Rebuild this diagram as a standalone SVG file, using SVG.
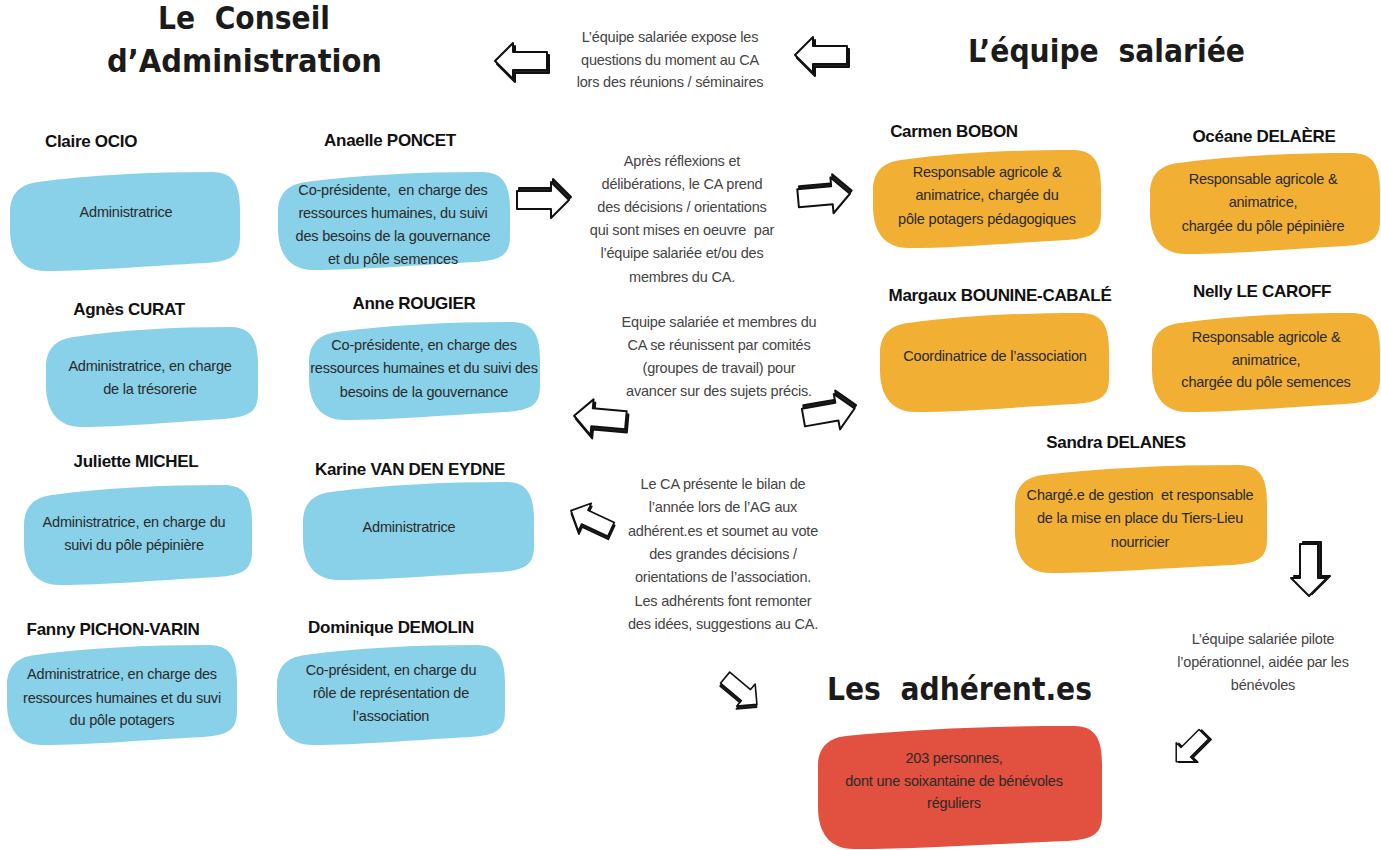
<svg xmlns="http://www.w3.org/2000/svg" xmlns:xlink="http://www.w3.org/1999/xlink" width="1381" height="850" viewBox="0 0 1381 850">
<style>
.title{font-family:"DejaVu Sans","Liberation Sans",sans-serif;font-weight:bold;font-size:32px;fill:#1b1b1b}
.name{font-family:"Liberation Sans",Arial,sans-serif;font-weight:bold;font-size:17px;fill:#111;text-anchor:middle;letter-spacing:-0.3px}
.t{font-family:"Liberation Sans",Arial,sans-serif;font-size:14.5px;fill:#2a2a2a;text-anchor:middle;letter-spacing:-0.2px}
.m{font-family:"Liberation Sans",Arial,sans-serif;font-size:14.5px;fill:#444;text-anchor:middle;letter-spacing:-0.2px}
.blue{fill:#88d1e9}
.orange{fill:#f1af34}
.red{fill:#e2503f}
.ashadow{fill:#222;stroke:#111;stroke-width:2;stroke-linejoin:round}
.afront{fill:#fff;stroke:#111;stroke-width:2;stroke-linejoin:round}
</style>
<defs>
<polygon id="arr" points="-26,-9 8,-9 8,-18 26,0 8,18 8,9 -26,9"/>
</defs>
<rect width="1381" height="850" fill="#fff"/>

<g id="titles">
<text class="title" x="158" y="29" textLength="172" lengthAdjust="spacingAndGlyphs" xml:space="preserve">Le  Conseil</text>
<text class="title" x="107" y="72" textLength="275" lengthAdjust="spacingAndGlyphs">d’Administration</text>
<text class="title" x="968" y="62" textLength="277" lengthAdjust="spacingAndGlyphs" xml:space="preserve">L’équipe  salariée</text>
<text class="title" x="827" y="700" textLength="265" lengthAdjust="spacingAndGlyphs" xml:space="preserve">Les  adhérent.es</text>
</g>

<g id="ca-claire">
<text class="name" x="91" y="147">Claire OCIO</text>
<path class="blue" transform="translate(10,172)" d="M28,10 C80,3 138,0 202,0 C224,0 230,14 230,38 L230,65 C230,85 220,89 196,91 C138,94 80,99 36,99 C10,99 0,81 0,57 L0,40 C0,22 10,12 28,10Z"/>
<text class="t" x="126" y="217">Administratrice</text>
</g>

<g id="ca-anaelle">
<text class="name" x="390" y="146">Anaelle PONCET</text>
<path class="blue" transform="translate(278,172)" d="M28,10 C81,3 139,0 204,0 C226,0 232,14 232,38 L232,64 C232,84 222,88 198,90 C139,93 81,98 36,98 C10,98 0,80 0,56 L0,40 C0,22 10,12 28,10Z"/>
<text class="t" x="393" y="195" xml:space="preserve">Co-présidente,  en charge des</text>
<text class="t" x="393" y="218">ressources humaines, du suivi</text>
<text class="t" x="393" y="241">des besoins de la gouvernance</text>
<text class="t" x="393" y="264">et du pôle semences</text>
</g>

<g id="ca-agnes">
<text class="name" x="129" y="315">Agnès CURAT</text>
<path class="blue" transform="translate(46,327)" d="M28,10 C74,3 127,0 184,0 C206,0 212,14 212,38 L212,66 C212,86 202,90 178,92 C127,95 74,100 36,100 C10,100 0,82 0,58 L0,40 C0,22 10,12 28,10Z"/>
<text class="t" x="150" y="371">Administratrice, en charge</text>
<text class="t" x="150" y="394">de la trésorerie</text>
</g>

<g id="ca-anne">
<text class="name" x="414" y="309">Anne ROUGIER</text>
<path class="blue" transform="translate(309,322)" d="M28,10 C81,3 139,0 203,0 C225,0 231,14 231,38 L231,64 C231,84 221,88 197,90 C139,93 81,98 36,98 C10,98 0,80 0,56 L0,40 C0,22 10,12 28,10Z"/>
<text class="t" x="424" y="350">Co-présidente, en charge des</text>
<text class="t" x="424" y="373">ressources humaines et du suivi des</text>
<text class="t" x="424" y="397">besoins de la gouvernance</text>
</g>

<g id="ca-juliette">
<text class="name" x="136" y="467">Juliette MICHEL</text>
<path class="blue" transform="translate(24,485)" d="M28,10 C80,3 137,0 200,0 C222,0 228,14 228,38 L228,66 C228,86 218,90 194,92 C137,95 80,100 36,100 C10,100 0,82 0,58 L0,40 C0,22 10,12 28,10Z"/>
<text class="t" x="134" y="527">Administratrice, en charge du</text>
<text class="t" x="134" y="550">suivi du pôle pépinière</text>
</g>

<g id="ca-karine">
<text class="name" x="410" y="475">Karine VAN DEN EYDNE</text>
<path class="blue" transform="translate(303,482)" d="M28,10 C81,3 139,0 203,0 C225,0 231,14 231,38 L231,64 C231,84 221,88 197,90 C139,93 81,98 36,98 C10,98 0,80 0,56 L0,40 C0,22 10,12 28,10Z"/>
<text class="t" x="409" y="532">Administratrice</text>
</g>

<g id="ca-fanny">
<text class="name" x="113" y="635">Fanny PICHON-VARIN</text>
<path class="blue" transform="translate(7,645)" d="M28,10 C80,3 138,0 202,0 C224,0 230,14 230,38 L230,66 C230,86 220,90 196,92 C138,95 80,100 36,100 C10,100 0,82 0,58 L0,40 C0,22 10,12 28,10Z"/>
<text class="t" x="122" y="679">Administratrice, en charge des</text>
<text class="t" x="122" y="703">ressources humaines et du suvi</text>
<text class="t" x="122" y="725">du pôle potagers</text>
</g>

<g id="ca-dominique">
<text class="name" x="391" y="633">Dominique DEMOLIN</text>
<path class="blue" transform="translate(277,645)" d="M28,10 C80,3 137,0 200,0 C222,0 228,14 228,38 L228,66 C228,86 218,90 194,92 C137,95 80,100 36,100 C10,100 0,82 0,58 L0,40 C0,22 10,12 28,10Z"/>
<text class="t" x="391" y="675">Co-président, en charge du</text>
<text class="t" x="391" y="698">rôle de représentation de</text>
<text class="t" x="391" y="721">l’association</text>
</g>

<g id="eq-carmen">
<text class="name" x="954" y="137">Carmen BOBON</text>
<path class="orange" transform="translate(873,150)" d="M28,10 C80,3 137,0 200,0 C222,0 228,14 228,38 L228,64 C228,84 218,88 194,90 C137,93 80,98 36,98 C10,98 0,80 0,56 L0,40 C0,22 10,12 28,10Z"/>
<text class="t" x="987" y="177">Responsable agricole &amp;</text>
<text class="t" x="987" y="200">animatrice, chargée du</text>
<text class="t" x="987" y="224">pôle potagers pédagogiques</text>
</g>

<g id="eq-oceane">
<text class="name" x="1264" y="142">Océane DELAÈRE</text>
<path class="orange" transform="translate(1150,153)" d="M28,10 C80,3 138,0 202,0 C224,0 230,14 230,38 L230,67 C230,87 220,91 196,93 C138,96 80,101 36,101 C10,101 0,83 0,59 L0,40 C0,22 10,12 28,10Z"/>
<text class="t" x="1263" y="184">Responsable agricole &amp;</text>
<text class="t" x="1263" y="207">animatrice,</text>
<text class="t" x="1263" y="231">chargée du pôle pépinière</text>
</g>

<g id="eq-margaux">
<text class="name" x="1000" y="301">Margaux BOUNINE-CABALÉ</text>
<path class="orange" transform="translate(880,313)" d="M28,10 C80,3 137,0 201,0 C223,0 229,14 229,38 L229,65 C229,85 219,89 195,91 C137,94 80,99 36,99 C10,99 0,81 0,57 L0,40 C0,22 10,12 28,10Z"/>
<text class="t" x="995" y="361">Coordinatrice de l’association</text>
</g>

<g id="eq-nelly">
<text class="name" x="1262" y="297">Nelly LE CAROFF</text>
<path class="orange" transform="translate(1152,313)" d="M28,10 C80,3 137,0 200,0 C222,0 228,14 228,38 L228,65 C228,85 218,89 194,91 C137,94 80,99 36,99 C10,99 0,81 0,57 L0,40 C0,22 10,12 28,10Z"/>
<text class="t" x="1266" y="342">Responsable agricole &amp;</text>
<text class="t" x="1266" y="365">animatrice,</text>
<text class="t" x="1266" y="387">chargée du pôle semences</text>
</g>

<g id="eq-sandra">
<text class="name" x="1116" y="448">Sandra DELANES</text>
<path class="orange" transform="translate(1015,465)" d="M28,10 C88,3 151,0 224,0 C246,0 252,14 252,38 L252,74 C252,94 242,98 218,100 C151,103 88,108 36,108 C10,108 0,90 0,66 L0,40 C0,22 10,12 28,10Z"/>
<text class="t" x="1140" y="500" xml:space="preserve">Chargé.e de gestion  et responsable</text>
<text class="t" x="1140" y="523">de la mise en place du Tiers-Lieu</text>
<text class="t" x="1140" y="547">nourricier</text>
</g>

<g id="adherents">
<path class="red" transform="translate(818,726)" d="M28,10 C99,3 170,0 256,0 C278,0 284,14 284,38 L284,89 C284,109 274,113 250,115 C170,118 99,123 36,123 C10,123 0,105 0,81 L0,40 C0,22 10,12 28,10Z"/>
<text class="t" x="954" y="763">203 personnes,</text>
<text class="t" x="954" y="786">dont une soixantaine de bénévoles</text>
<text class="t" x="954" y="808">réguliers</text>
</g>

<g id="labels">
<text class="m" x="670" y="42">L’équipe salariée expose les</text>
<text class="m" x="670" y="65">questions du moment au CA</text>
<text class="m" x="670" y="87">lors des réunions / séminaires</text>

<text class="m" x="682" y="166">Après réflexions et</text>
<text class="m" x="682" y="189">délibérations, le CA prend</text>
<text class="m" x="682" y="212">des décisions / orientations</text>
<text class="m" x="682" y="235" xml:space="preserve">qui sont mises en oeuvre  par</text>
<text class="m" x="682" y="258">l’équipe salariée et/ou des</text>
<text class="m" x="682" y="282">membres du CA.</text>

<text class="m" x="719" y="327">Equipe salariée et membres du</text>
<text class="m" x="719" y="350">CA se réunissent par comités</text>
<text class="m" x="719" y="373">(groupes de travail) pour</text>
<text class="m" x="719" y="396">avancer sur des sujets précis.</text>

<text class="m" x="723" y="489">Le CA présente le bilan de</text>
<text class="m" x="723" y="512">l’année lors de l’AG aux</text>
<text class="m" x="723" y="536">adhérent.es et soumet au vote</text>
<text class="m" x="723" y="559">des grandes décisions /</text>
<text class="m" x="723" y="582">orientations de l’association.</text>
<text class="m" x="723" y="606">Les adhérents font remonter</text>
<text class="m" x="723" y="629">des idées, suggestions au CA.</text>

<text class="m" x="1263" y="644">L’équipe salariée pilote</text>
<text class="m" x="1263" y="667">l’opérationnel, aidée par les</text>
<text class="m" x="1263" y="690">bénévoles</text>
</g>

<g id="connectors">
<g transform="translate(521,61) rotate(180)"><use href="#arr" class="ashadow" transform="translate(-2,-3)"/><use href="#arr" class="afront"/></g>
<g transform="translate(821,55) rotate(180)"><use href="#arr" class="ashadow" transform="translate(-2,-3)"/><use href="#arr" class="afront"/></g>
<g transform="translate(543,200)"><use href="#arr" class="ashadow" transform="translate(2,-3)"/><use href="#arr" class="afront"/></g>
<g transform="translate(824,196) rotate(-5)"><use href="#arr" class="ashadow" transform="translate(2,-3)"/><use href="#arr" class="afront"/></g>
<g transform="translate(600,418) rotate(185)"><use href="#arr" class="ashadow" transform="translate(-2,-3)"/><use href="#arr" class="afront"/></g>
<g transform="translate(829,413) rotate(-10)"><use href="#arr" class="ashadow" transform="translate(2,-3)"/><use href="#arr" class="afront"/></g>
<g transform="translate(591,520) rotate(205) scale(0.85)"><use href="#arr" class="ashadow" transform="translate(-2,-3)"/><use href="#arr" class="afront"/></g>
<g transform="translate(741,691) rotate(40) scale(0.8)"><use href="#arr" class="ashadow" transform="translate(2,3)"/><use href="#arr" class="afront"/></g>
<g transform="translate(1309,570) rotate(90)"><use href="#arr" class="ashadow" transform="translate(-2,-3)"/><use href="#arr" class="afront"/></g>
<g transform="translate(1190,748) rotate(135) scale(0.75)"><use href="#arr" class="ashadow" transform="translate(-2,-3)"/><use href="#arr" class="afront"/></g>
</g>
</svg>
